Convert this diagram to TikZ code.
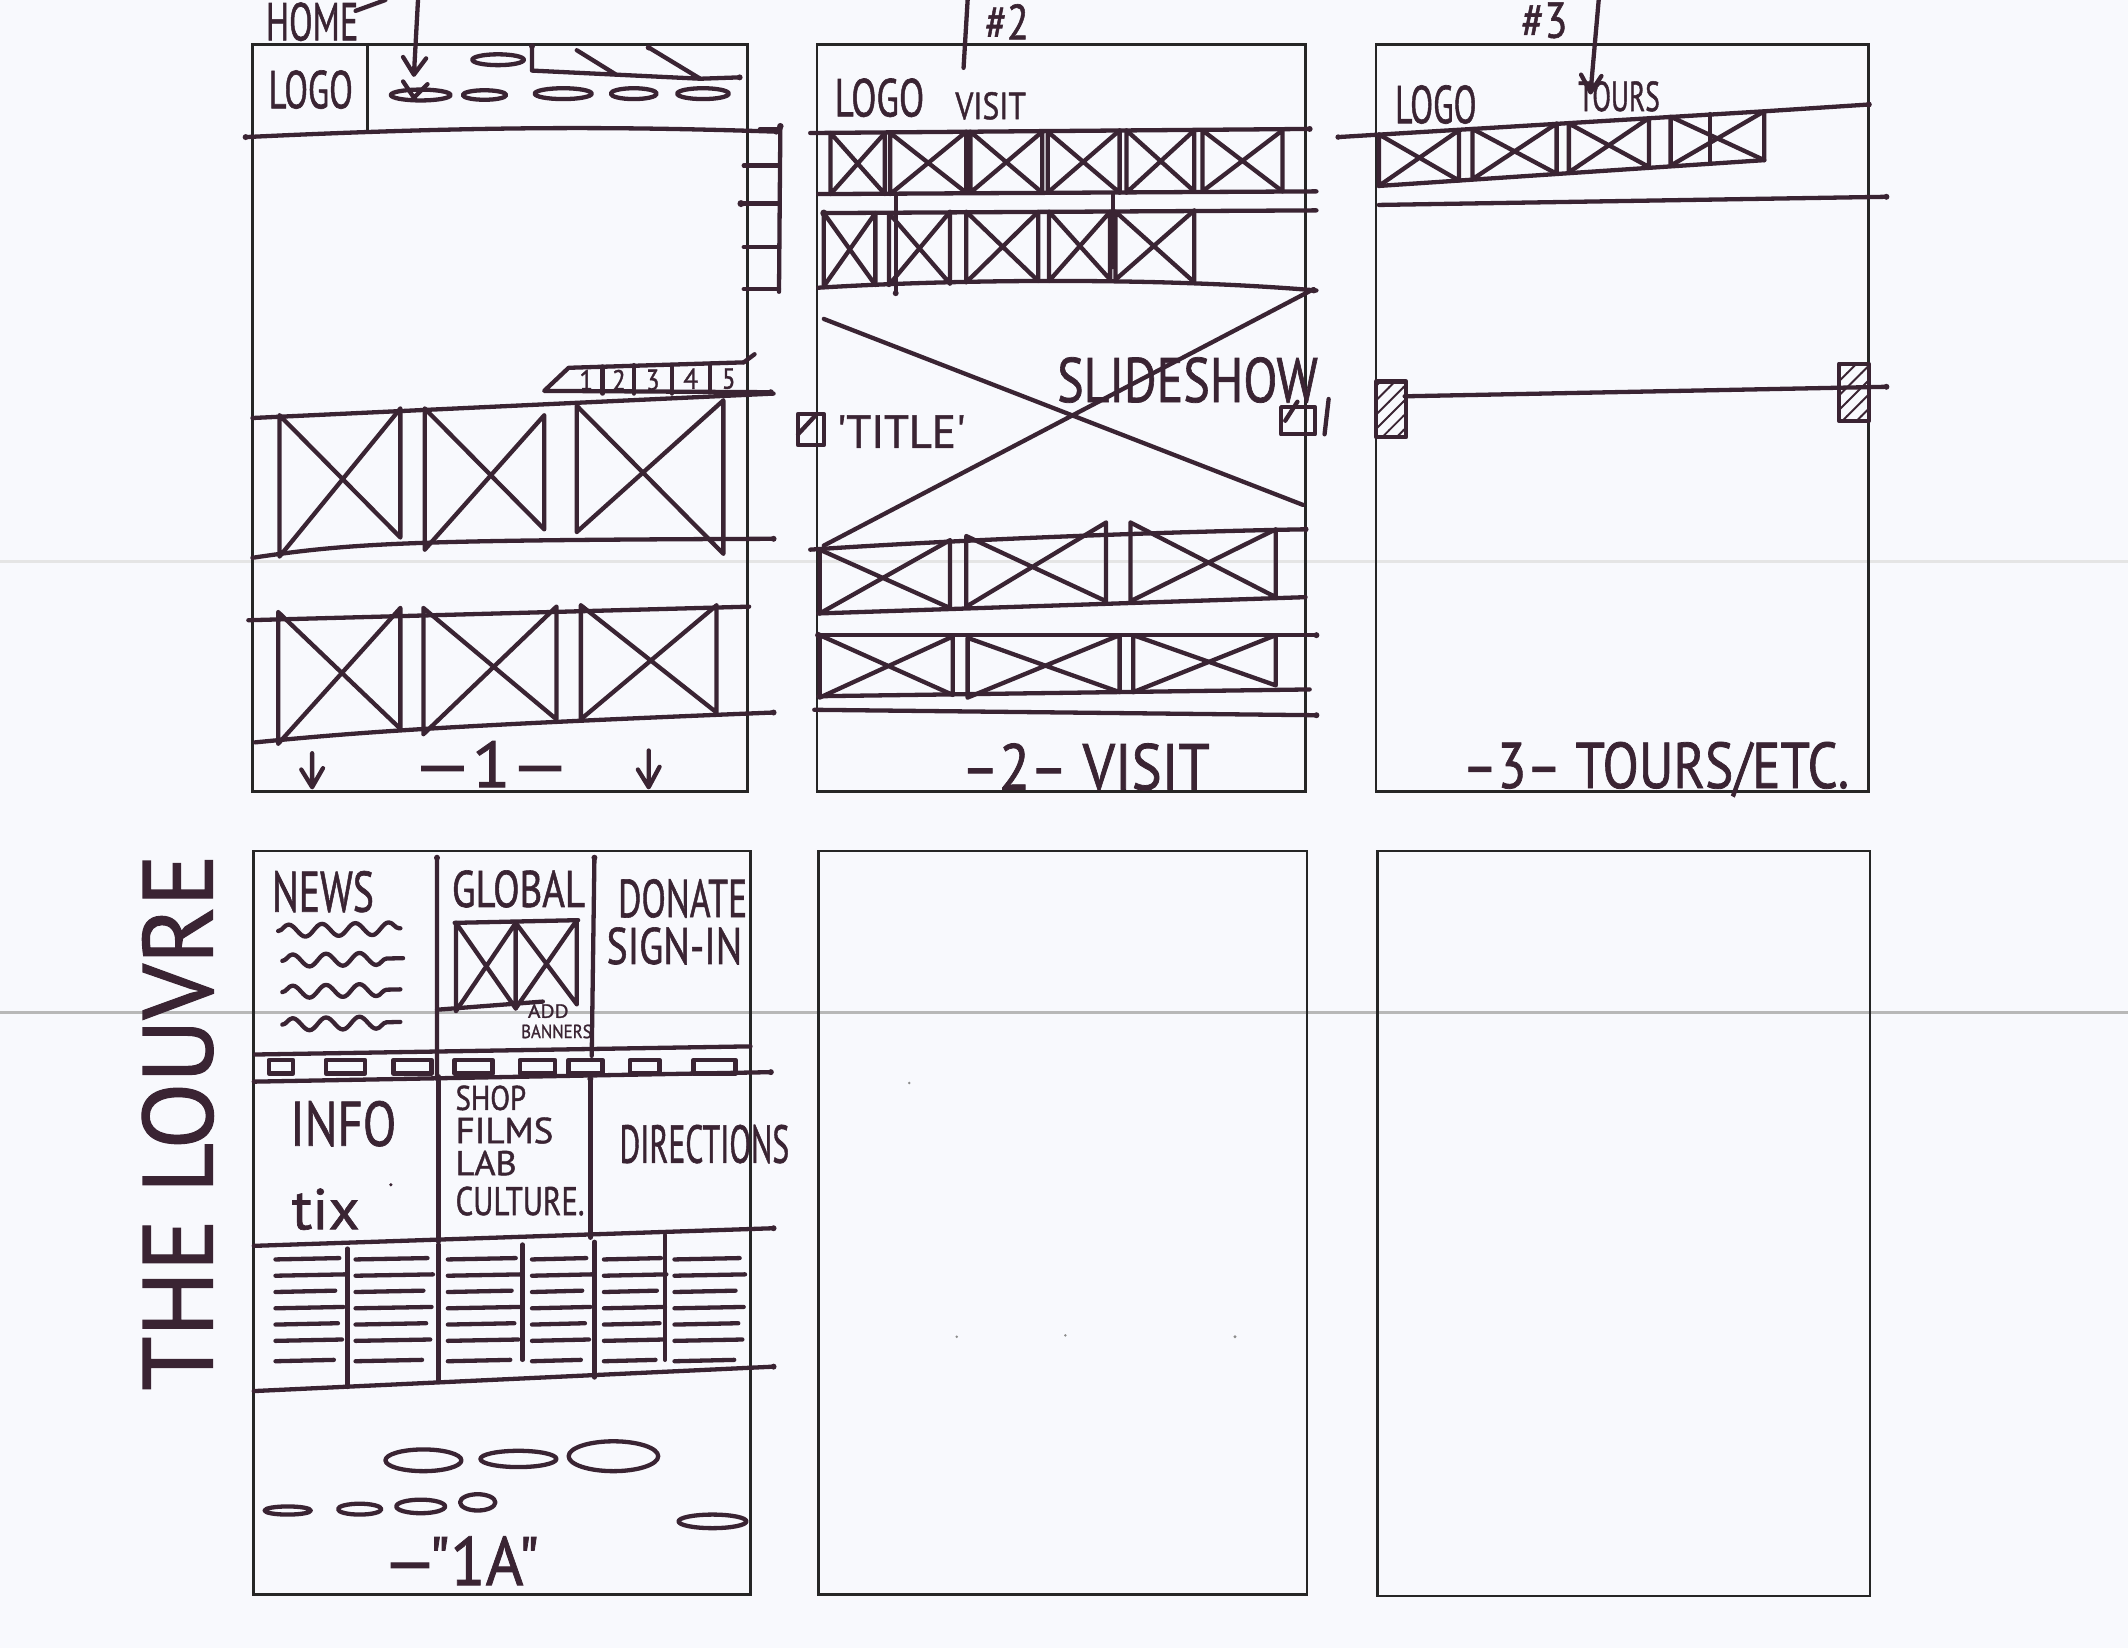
\documentclass[tikz,border=0pt]{standalone}
\usepackage{fontspec}
\newfontfamily\hand{PT Sans}[FakeBold=1.2]
\usetikzlibrary{decorations.pathmorphing,patterns}
\definecolor{inkc}{HTML}{3A2433}
\definecolor{paper}{HTML}{F8F9FD}
\newlength\wu \setlength\wu{0.01cm}
\newcommand\hw[3]{\resizebox{#1\wu}{#2\wu}{\hand #3}}
\newcommand\wfx[6]{\draw[ink] (#1,#2)--(#1,#3) (#4,#5)--(#4,#6) (#1,#2)--(#4,#6) (#4,#5)--(#1,#3);}
\newcommand\tcol[2]{\foreach \yy/\dd in {928/0,940/4,952/-3,964/3,976/-1,988/2,1003/-4}{\draw[ink] (#1,\yy)--({#2+\dd},{\yy-1});}}
\begin{document}
\begin{tikzpicture}[x=0.01cm,y=-0.01cm,
  ink/.style={draw=inkc,line width=0.9pt,line cap=round,line join=round},
  frame/.style={draw=black!85,line width=0.55pt},
  txt/.style={inner sep=0pt,text=inkc},
  squig/.style={ink,decorate,decoration={snake,amplitude=1.3pt,segment length=7pt}},
  hatch/.style={ink,pattern=north east lines,pattern color=inkc}]
\fill[paper] (0,0) rectangle (1568,1214);
\useasboundingbox (0,0) rectangle (1568,1214);
% scan fold lines
\draw[black!10,line width=0.6pt] (0,414)--(1568,414);
\draw[black!28,line width=0.8pt] (0,746)--(1568,746);
% panel frames
\draw[frame] (186,33) rectangle (551,583);
\draw[frame] (602,33) rectangle (962,583);
\draw[frame] (1014,33) rectangle (1377,583);
\draw[frame] (187,627) rectangle (553,1175);
\draw[frame] (603,627) rectangle (963,1175);
\draw[frame] (1015,627) rectangle (1378,1176);

% ================= PANEL 1 =================
\node[txt] (home) at (230,16) {\hw{68}{28}{HOME}};
\draw[ink] (262,8)--(284,0);
\draw[ink] (308,0)--(305,55) (297,42)--(305,55)--(314,43);
\draw[frame] (271,33)--(271,96);
\node[txt] (logo1) at (229,66) {\hw{62}{28}{LOGO}};
\draw[ink] (181,101) .. controls (350,93) and (450,93) .. (572,97);
\fill[inkc] (181,101) circle (2.2) (572,97) circle (2.2);
% nav
\draw[ink] (367,44) ellipse (19 and 4);
\draw[ink] (392,34)--(392,52)--(454,55)--(516,58)--(545,57);
\draw[ink] (425,37)--(454,55) (478,35)--(516,58);
\fill[inkc] (392,34) circle (2.2) (478,35) circle (2.2) (545,57) circle (2.2);
\draw[ink] (310,70) ellipse (22 and 4);
\draw[ink] (357,70) ellipse (16 and 3.5);
\draw[ink] (415,69) ellipse (21 and 4);
\draw[ink] (467,69) ellipse (17 and 4);
\draw[ink] (518,69) ellipse (19 and 4);
\draw[ink] (297,60)--(305,72)--(315,62);
% scroll ladder
\draw[ink] (575,93)--(574,215);
\draw[ink] (560,95)--(575,95) (548,122)--(574,122) (548,150)--(574,150) (548,182)--(574,182) (548,213)--(574,213);
\fill[inkc] (575,93) circle (2.4) (546,150) circle (2.6);
% pagination
\draw[ink] (419,271)--(548,267) (419,271)--(401,288)--(568,289);
\draw[ink] (444,270)--(444,290) (467,269)--(467,290) (495,269)--(495,290) (523,268)--(523,289);
\draw[ink] (548,267)--(556,261);
\fill[inkc] (568,289) circle (2.2);
\node[txt] (pg1) at (432,280) {\hw{10}{15}{1}};
\node[txt] (pg2) at (456,280) {\hw{10}{15}{2}};
\node[txt] (pg3) at (481,280) {\hw{10}{15}{3}};
\node[txt] (pg4) at (509,279) {\hw{11}{15}{4}};
\node[txt] (pg5) at (537,279) {\hw{10}{15}{5}};
% image row 1
\draw[ink] (186,308)--(570,290);
\draw[ink] (186,411) .. controls (260,400) and (300,398) .. (570,397);
\fill[inkc] (570,397) circle (2.2);
\wfx{206}{306}{410}{295}{301}{396}
\wfx{313}{301}{405}{401}{306}{390}
\wfx{425}{299}{392}{533}{295}{408}
% image row 2
\draw[ink] (183,457)--(552,447);
\draw[ink] (188,547) .. controls (260,540) and (320,535) .. (570,525);
\fill[inkc] (570,525) circle (2.2);
\wfx{205}{451}{548}{295}{448}{537}
\wfx{312}{448}{541}{410}{447}{530}
\wfx{428}{446}{530}{528}{446}{525}
% bottom
\draw[ink] (230,555)--(230,580) (222,567)--(230,580)--(238,566);
\draw[ink] (478,553)--(478,580) (470,567)--(478,580)--(486,565);
\node[txt] (lab1) at (362,563) {\hw{115}{34}{—1—}};

% ================= PANEL 2 =================
\draw[ink] (713,0)--(710,50);
\node[txt] (h2) at (742,16) {\hw{32}{26}{\#2}};
\node[txt] (logo2) at (648,72) {\hw{66}{28}{LOGO}};
\node[txt] (visit) at (730,78) {\hw{52}{20}{VISIT}};
\draw[ink] (597,98)--(965,95);
\draw[ink] (603,143)--(970,141);
\draw[ink] (607,157)--(970,155);
\draw[ink] (603,212) .. controls (700,206) and (850,204) .. (970,214);
\fill[inkc] (965,95) circle (2.2) (607,157) circle (2.6) (968,214) circle (2.2) (660,216) circle (2.2) (820,196) circle (2.4);
\wfx{612}{98}{143}{652}{98}{143}
\wfx{656}{98}{143}{712}{97}{142}
\wfx{715}{97}{142}{768}{97}{142}
\wfx{772}{97}{142}{825}{96}{142}
\wfx{830}{96}{142}{880}{96}{141}
\wfx{886}{96}{141}{945}{96}{141}
\wfx{607}{157}{211}{645}{157}{210}
\wfx{655}{157}{210}{700}{156}{209}
\wfx{712}{156}{208}{765}{156}{207}
\wfx{773}{156}{207}{818}{156}{206}
\wfx{822}{156}{206}{880}{155}{208}
\draw[ink] (660,143)--(660,216) (820,143)--(820,196);
% slideshow
\draw[ink] (607,235)--(960,372);
\draw[ink] (607,402)--(968,213);
\node[txt] (slide) at (875,280) {\hw{192}{33}{SLIDESHOW}};
\draw[ink] (588,305) rectangle (607,328);
\draw[ink] (588,320)--(601,306);
\node[txt] (title) at (664,318) {\hw{95}{24}{'TITLE'}};
\draw[ink] (944,300) rectangle (969,320);
\draw[ink] (956,296)--(947,310) (979,294)--(976,320);
% bottom grid
\draw[ink] (597,405) .. controls (700,398) and (850,392) .. (962,390);
\draw[ink] (603,452)--(962,440);
\draw[ink] (603,468)--(970,468);
\draw[ink] (603,513)--(965,508);
\draw[ink] (600,523)--(970,527);
\fill[inkc] (962,390) circle (2.2) (970,468) circle (2.2) (970,527) circle (2.2) (603,468) circle (2.4);
\wfx{604}{405}{452}{700}{398}{448}
\wfx{712}{395}{447}{815}{385}{443}
\wfx{833}{385}{443}{940}{390}{440}
\wfx{604}{468}{514}{702}{469}{512}
\wfx{713}{470}{514}{825}{468}{510}
\wfx{835}{468}{510}{940}{468}{505}
\node[txt] (lab2) at (800,565) {\hw{183}{34}{–2– VISIT}};

% ================= PANEL 3 =================
\node[txt] (h3) at (1138,15) {\hw{34}{26}{\#3}};
\draw[ink] (1178,0)--(1172,68) (1165,55)--(1172,68)--(1180,56);
\node[txt] (logo3) at (1058,77) {\hw{60}{28}{LOGO}};
\node[txt] (tours) at (1193,71) {\hw{60}{22}{TOURS}};
\draw[ink] (986,101)--(1300,82)--(1377,77);
\draw[ink] (1016,137)--(1150,128)--(1300,118);
\draw[ink] (1016,151)--(1390,145);
\fill[inkc] (1377,77) circle (2.2) (1390,145) circle (2.2) (986,101) circle (2);
\wfx{1016}{99}{137}{1075}{96}{133}
\wfx{1085}{95}{132}{1147}{91}{128}
\wfx{1156}{91}{127}{1215}{87}{123}
\wfx{1231}{86}{122}{1300}{82}{118}
\draw[ink] (1260,84)--(1260,120);
\draw[ink] (1035,292)--(1390,285);
\fill[inkc] (1390,285) circle (2.2);
\draw[hatch] (1014,281) rectangle (1036,322);
\draw[hatch] (1355,268) rectangle (1377,310);
\node[txt] (lab3) at (1220,567) {\hw{285}{34}{–3– TOURS/ETC.}};

% ================= PANEL 4 =================
\node[txt,rotate=90] (louvre) at (131,827) {\hw{395}{52}{THE LOUVRE}};
\draw[ink] (322,632)--(322,795) (438,632)--(436,778);
\fill[inkc] (322,632) circle (2.2) (438,632) circle (2.2);
\node[txt] (news) at (238,657) {\hw{75}{30}{NEWS}};
\draw[squig] (205,686)--(295,684);
\draw[squig] (208,708)--(297,706);
\draw[squig] (208,731)--(295,729);
\draw[squig] (208,755)--(295,753);
\node[txt] (global) at (382,655) {\hw{98}{27}{GLOBAL}};
\draw[ink] (335,680)--(426,678);
\draw[ink] (322,744)--(400,738);
\wfx{336}{680}{745}{380}{680}{743}
\wfx{380}{680}{743}{425}{678}{740}
\node[txt] (add) at (404,745) {\hw{30}{10}{ADD}};
\node[txt] (banners) at (410,760) {\hw{52}{10}{BANNERS}};
\node[txt] (donate) at (503,662) {\hw{95}{28}{DONATE}};
\node[txt] (signin) at (497,697) {\hw{100}{27}{SIGN-IN}};
% strip
\draw[ink] (188,777)--(553,771);
\draw[ink] (187,797)--(568,790);
\fill[inkc] (568,790) circle (2.2);
\foreach \a/\b in {198/216,240/269,290/318,335/363,383/409,419/444,464/486,511/542}
  {\draw[ink] (\a,781) rectangle (\b,791);}
% middle row
\draw[ink] (323,793)--(323,915) (435,795)--(435,912);
\fill[inkc] (323,795) circle (2.2) (435,795) circle (2.2) (435,910) circle (2.2);
\node[txt] (info) at (253,828) {\hw{78}{33}{INFO}};
\node[txt] (tix) at (240,891) {\hw{50}{30}{tix}};
\fill[inkc] (288,873) circle (1.3);
\node[txt,anchor=west] (shop) at (335,809) {\hw{52}{18}{SHOP}};
\node[txt,anchor=west] (films) at (335,833) {\hw{72}{19}{FILMS}};
\node[txt,anchor=west] (lab) at (335,857) {\hw{45}{18}{LAB}};
\node[txt,anchor=west] (culture) at (335,885) {\hw{95}{21}{CULTURE.}};
\node[txt] (directions) at (519,843) {\hw{125}{28}{DIRECTIONS}};
% text columns
\draw[ink] (187,918)--(570,905);
\draw[ink] (187,1025)--(570,1007);
\fill[inkc] (570,905) circle (2.2) (570,1007) circle (2.2);
\draw[ink] (256,920)--(256,1022) (323,917)--(323,1018) (385,917)--(385,1002) (438,915)--(438,1015) (490,910)--(490,1002);
\tcol{203}{250}
\tcol{262}{315}
\tcol{330}{380}
\tcol{392}{432}
\tcol{445}{487}
\tcol{497}{545}
% footer
\draw[ink] (312,1076) ellipse (28 and 8);
\draw[ink] (382,1075) ellipse (28 and 6);
\draw[ink] (452,1073) ellipse (33 and 11);
\draw[ink] (212,1113) ellipse (17 and 3);
\draw[ink] (265,1112) ellipse (16 and 4);
\draw[ink] (310,1110) ellipse (18 and 5);
\draw[ink] (352,1107) ellipse (13 and 6);
\draw[ink] (525,1121) ellipse (25 and 5);
\node[txt] (lab4) at (340,1150) {\hw{115}{36}{—"1A"}};

% specks in panel 5
\fill[black!45] (670,798) circle (1) (705,985) circle (1) (785,984) circle (1) (910,985) circle (1.2);
\end{tikzpicture}
\end{document}
